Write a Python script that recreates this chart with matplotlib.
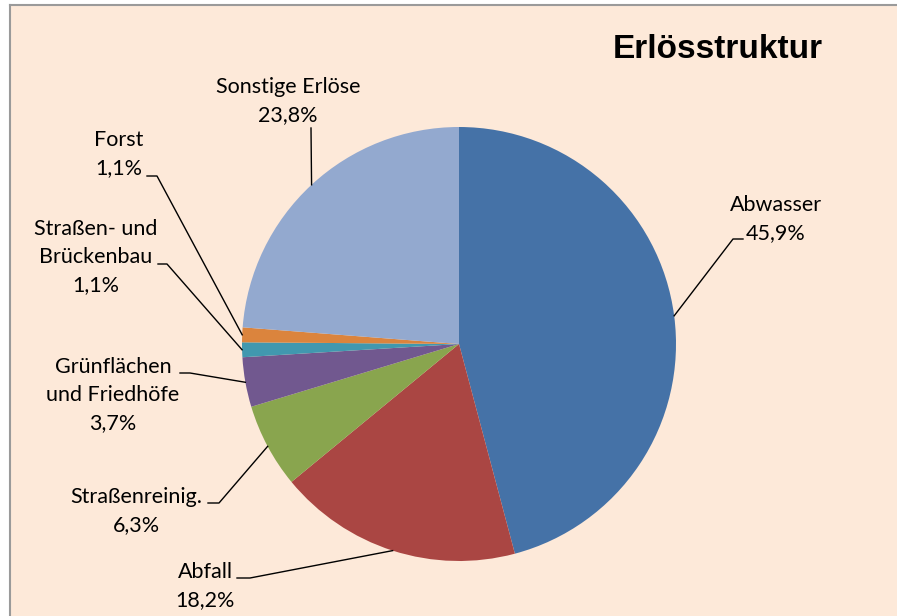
import matplotlib
matplotlib.use("Agg")
import matplotlib.pyplot as plt
from matplotlib.patches import Rectangle
import numpy as np

# data
labels = ["Abwasser", "Abfall", "Straßenreinig.", "Grünflächen\nund Friedhöfe",
          "Straßen- und\nBrückenbau", "Forst", "Sonstige Erlöse"]
values = [45.9, 18.2, 6.3, 3.7, 1.1, 1.1, 23.8]
pct_text = ["45,9%", "18,2%", "6,3%", "3,7%", "1,1%", "1,1%", "23,8%"]
colors = ["#4572A7", "#AA4643", "#89A54E", "#71588F", "#4198AF", "#DB843D", "#93A9CF"]

W, H = 897, 616
BG = "#FDE9D9"
def py(y):
    return H - y

fig = plt.figure(figsize=(W / 100, H / 100), dpi=100)
fig.patch.set_facecolor(BG)
ax = fig.add_axes([0, 0, 1, 1])

cx, cy, r = 459, py(344), 217
ax.pie(values, colors=colors, startangle=90, counterclock=False,
       center=(cx, cy), radius=r, frame=False,
       wedgeprops=dict(linewidth=0))
ax.set_xlim(0, W)
ax.set_ylim(0, H)
ax.set_aspect("auto")  # axes pixels already match data units
ax.axis("off")

# white margin on left and top, grey border line
ax.add_patch(Rectangle((-5, -5), 15, H + 10, facecolor="white", edgecolor="none", zorder=0))
ax.add_patch(Rectangle((-5, py(5)), W + 10, 10, facecolor="white", edgecolor="none", zorder=0))
ax.plot([10, 10], [-20, py(5)], color="#9A9A9A", linewidth=1.5, zorder=1)
ax.plot([10, W + 20], [py(5), py(5)], color="#9A9A9A", linewidth=1.5, zorder=1)

# label layout: text center, elbow, line end (pixel coords)
label_pos = [(776, 219), (205, 586), (136, 511), (113, 395), (96, 257), (119, 154), (288, 101)]
elbows = [(733, 239), (250, 578), (219, 503), (190, 373), (167, 264), (157, 176), (311, 128)]
ends = [(743, 239), (237, 578), (208, 503), (180, 373), (158, 264), (147, 176), (311, 128)]

frac = np.array(values) / sum(values)
cum = np.cumsum(frac) - frac / 2
for i in range(len(values)):
    ang = np.deg2rad(90 - cum[i] * 360)
    ex, ey = cx + r * np.cos(ang), cy + r * np.sin(ang)
    xs = [ex, elbows[i][0], ends[i][0]]
    ys = [ey, py(elbows[i][1]), py(ends[i][1])]
    ax.plot(xs, ys, color="black", linewidth=1.0, zorder=3)
    ax.text(label_pos[i][0], py(label_pos[i][1]), labels[i] + "\n" + pct_text[i],
            ha="center", va="center", fontsize=15.5, family=["Lato", "DejaVu Sans"],
            linespacing=1.5, color="black")

ax.text(718, py(50), "Erlösstruktur", ha="center", va="center", fontsize=24,
        fontweight="bold", family=["Liberation Sans", "DejaVu Sans"])

fig.savefig("out.png", dpi=100, facecolor=fig.get_facecolor())
